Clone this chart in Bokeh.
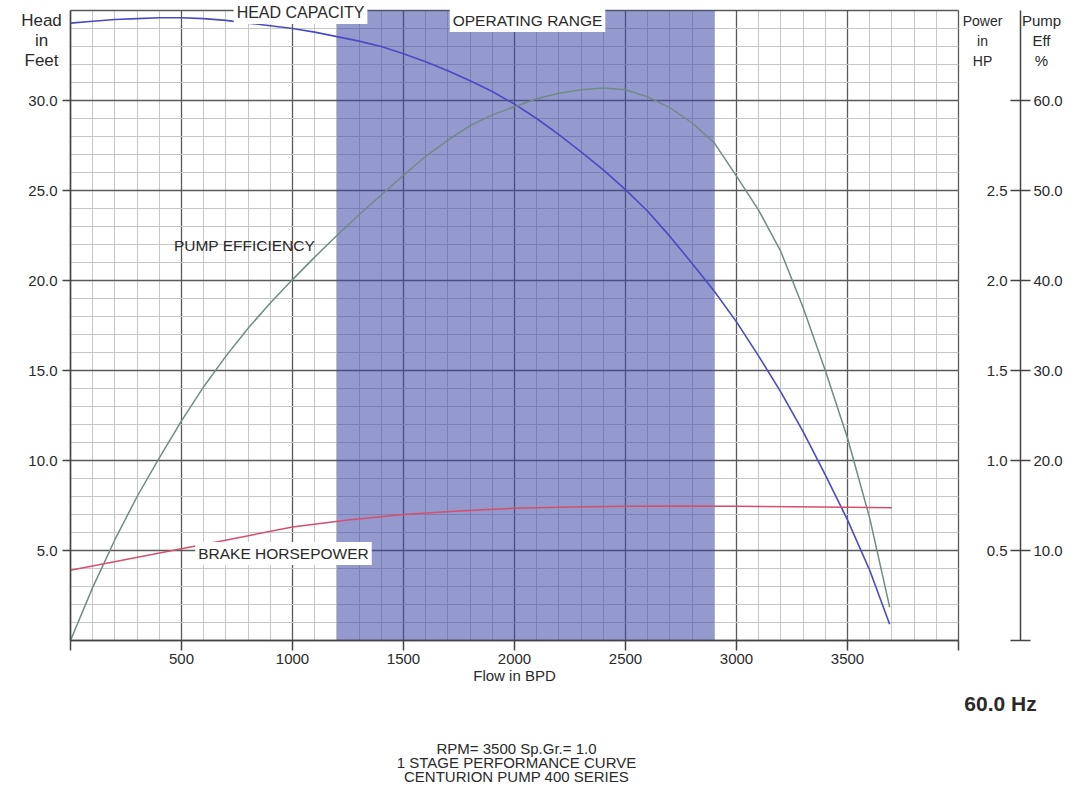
from bokeh.plotting import figure
from bokeh.models import (Range1d, LinearAxis, FixedTicker, Grid, BoxAnnotation,
                          Label, NumeralTickFormatter)
from bokeh.embed import file_html
from bokeh.resources import INLINE

# ---------------- data ----------------
flow_bpd = [0, 100, 200, 300, 400, 500, 600, 700, 800, 900, 1000, 1100, 1200, 1300,
            1400, 1500, 1600, 1700, 1800, 1900, 2000, 2100, 2200, 2300, 2400, 2500,
            2600, 2700, 2800, 2900, 3000, 3100, 3200, 3300, 3400, 3500, 3600, 3690]
head_ft = [34.3, 34.4, 34.5, 34.55, 34.6, 34.6, 34.55, 34.45, 34.3, 34.15, 34.0, 33.8,
           33.55, 33.3, 33.0, 32.6, 32.15, 31.65, 31.1, 30.5, 29.8, 29.0, 28.1, 27.15,
           26.15, 25.05, 23.85, 22.45, 20.95, 19.4, 17.7, 15.8, 13.8, 11.6, 9.2, 6.7,
           3.9, 0.9]
eff_pct = [0.0, 5.9, 11.2, 16.0, 20.3, 24.4, 28.2, 31.6, 34.7, 37.5, 40.1, 42.6, 45.0,
           47.3, 49.5, 51.7, 53.8, 55.6, 57.2, 58.4, 59.3, 60.2, 60.8, 61.2, 61.4, 61.2,
           60.4, 59.2, 57.5, 55.3, 51.6, 47.8, 43.2, 37.0, 30.0, 22.5, 13.6, 3.7]
bhp_flow = [0, 250, 500, 750, 1000, 1250, 1500, 1750, 2000, 2250, 2500, 2750, 3000,
            3250, 3500, 3700]
bhp_hp = [0.39, 0.45, 0.51, 0.57, 0.63, 0.67, 0.70, 0.72, 0.735, 0.742, 0.746, 0.747,
          0.746, 0.743, 0.740, 0.737]
operating_range = [1200, 2900]

FLOW_MAX = 4000
HEAD_MAX = 35
x_ticks = [0, 500, 1000, 1500, 2000, 2500, 3000, 3500, 4000]
x_minor = list(range(0, 4001, 100))
head_ticks = [5, 10, 15, 20, 25, 30]
head_grid = [0, 5, 10, 15, 20, 25, 30, 35]
head_minor = list(range(0, 36))
hp_ticks = [0.5, 1.0, 1.5, 2.0, 2.5]
eff_ticks = [0, 10, 20, 30, 40, 50, 60]

# ---------------- layout constants (the frame fills the page) ----------------
W, H = 1076, 792
X0_PX, Y0_PX = 70, 640              # pixel position of flow 0 / head 0
PX_PER_FLOW = 888 / 4000.0          # 4000 BPD spans 888 px
PX_PER_FT = 18.0
X_START = -X0_PX / PX_PER_FLOW
X_END = (W - X0_PX) / PX_PER_FLOW
Y_START = -(H - Y0_PX) / PX_PER_FT
Y_END = Y0_PX / PX_PER_FT
RIGHT_AXIS_X = (1020 - X0_PX) / PX_PER_FLOW

FONT = "Liberation Sans"
TXT = "#2a2a2a"
AX = "#444444"
TICK_FS = "15px"


def px_x(px):
    return (px - X0_PX) / PX_PER_FLOW


def px_y(py):
    return (Y0_PX - py) / PX_PER_FT


p = figure(width=W, height=H, x_range=Range1d(X_START, X_END),
           y_range=Range1d(Y_START, Y_END),
           output_backend="svg", toolbar_location=None, min_border=0)
p.outline_line_color = None
p.background_fill_color = "white"
p.border_fill_color = "white"
p.extra_y_ranges = {"hp": Range1d(Y_START / 10.0, Y_END / 10.0),
                    "eff": Range1d(Y_START * 2.0, Y_END * 2.0)}

# ---------------- grids ----------------
p.xgrid.ticker = FixedTicker(ticks=x_ticks, minor_ticks=x_minor)
p.ygrid.ticker = FixedTicker(ticks=head_grid, minor_ticks=head_minor)
for g in (p.xgrid[0], p.ygrid[0]):
    g.grid_line_color = "#5a5a5a"
    g.grid_line_width = 1.3
    g.minor_grid_line_color = "#c6c6c6"
    g.minor_grid_line_width = 1

if "cross_bounds" in Grid.properties():
    p.ygrid[0].cross_bounds = (0, FLOW_MAX)
    p.xgrid[0].cross_bounds = (0, HEAD_MAX)
else:
    eps_x, eps_y = 2 / PX_PER_FLOW, 0.1
    for kw in (dict(left=FLOW_MAX + eps_x), dict(right=-eps_x),
               dict(bottom=HEAD_MAX + eps_y), dict(top=-eps_y)):
        p.add_layout(BoxAnnotation(fill_color="white", fill_alpha=1.0,
                                   line_color=None, level="underlay", **kw))

# operating range shading
p.add_layout(BoxAnnotation(left=operating_range[0], right=operating_range[1],
                           bottom=0, top=HEAD_MAX,
                           fill_color="#3d46a6", fill_alpha=0.55, line_color=None,
                           level="underlay"))

# ---------------- curves ----------------
p.line(flow_bpd, head_ft, line_color="#4a4ac2", line_width=1.6)
p.line(flow_bpd, eff_pct, y_range_name="eff", line_color="#6f8c86", line_width=1.5)
p.line(bhp_flow, bhp_hp, y_range_name="hp", line_color="#d4506e", line_width=1.5)

# ---------------- axes ----------------
xa = p.xaxis[0]
xa.fixed_location = 0
xa.ticker = FixedTicker(ticks=x_ticks)
xa.bounds = (0, FLOW_MAX)
xa.major_label_overrides = {0: "", 4000: ""}
xa.major_tick_out = 10
xa.major_tick_in = 0
xa.minor_tick_line_color = None
xa.axis_line_color = AX
xa.axis_line_width = 1.5
xa.major_tick_line_color = AX
xa.major_tick_line_width = 1.5
xa.major_label_standoff = 3
xa.major_label_text_font = FONT
xa.major_label_text_font_size = TICK_FS
xa.major_label_text_color = TXT
xa.axis_label = "Flow in BPD"
xa.axis_label_standoff = 0
xa.axis_label_text_font = FONT
xa.axis_label_text_font_size = "15px"
xa.axis_label_text_font_style = "normal"
xa.axis_label_text_color = TXT

ya = p.yaxis[0]
ya.fixed_location = 0
ya.ticker = FixedTicker(ticks=head_ticks)
ya.formatter = NumeralTickFormatter(format="0.0")
ya.bounds = (0, HEAD_MAX)
ya.major_tick_out = 8
ya.major_tick_in = 0
ya.minor_tick_line_color = None
ya.axis_line_color = AX
ya.axis_line_width = 1.5
ya.major_tick_line_color = AX
ya.major_tick_line_width = 1.5
ya.major_label_standoff = 5
ya.major_label_text_font = FONT
ya.major_label_text_font_size = TICK_FS
ya.major_label_text_color = TXT

hp_axis = LinearAxis(y_range_name="hp", fixed_location=RIGHT_AXIS_X,
                     ticker=FixedTicker(ticks=hp_ticks),
                     formatter=NumeralTickFormatter(format="0.0"))
hp_axis.axis_line_color = None
hp_axis.major_tick_line_color = None
hp_axis.minor_tick_line_color = None
hp_axis.major_tick_out = 0
hp_axis.major_tick_in = 0
hp_axis.major_label_standoff = 13
hp_axis.major_label_text_font = FONT
hp_axis.major_label_text_font_size = TICK_FS
hp_axis.major_label_text_color = TXT
p.add_layout(hp_axis, "left")

eff_axis = LinearAxis(y_range_name="eff", fixed_location=RIGHT_AXIS_X,
                      ticker=FixedTicker(ticks=eff_ticks),
                      formatter=NumeralTickFormatter(format="0.0"))
eff_axis.bounds = (0, HEAD_MAX * 2)
eff_axis.major_label_overrides = {0: ""}
eff_axis.axis_line_color = AX
eff_axis.axis_line_width = 1.5
eff_axis.major_tick_line_color = AX
eff_axis.major_tick_line_width = 1.5
eff_axis.minor_tick_line_color = None
eff_axis.major_tick_out = 10
eff_axis.major_tick_in = 10
eff_axis.major_label_standoff = 3
eff_axis.major_label_text_font = FONT
eff_axis.major_label_text_font_size = TICK_FS
eff_axis.major_label_text_color = TXT
p.add_layout(eff_axis, "right")

# ---------------- texts ----------------
has_padding = "padding" in Label.properties()


def add_label(text, px, py, size="14px", bold=False, bg=None, align="center"):
    kw = dict(x=px_x(px), y=px_y(py), text=text, text_align=align,
              text_baseline="middle", text_font=FONT, text_font_size=size,
              text_color=TXT, text_font_style="bold" if bold else "normal")
    if bg is not None:
        kw["background_fill_color"] = bg
        kw["background_fill_alpha"] = 1.0
        if has_padding:
            kw["padding"] = 3
    p.add_layout(Label(**kw))


add_label("HEAD CAPACITY", 300, 12, size="16px", bg="white")
add_label("OPERATING RANGE", 527, 20, size="15.5px", bg="white")
add_label("PUMP EFFICIENCY", 244, 245, size="15.5px")
add_label("BRAKE HORSEPOWER", 283, 553, size="15.5px", bg="white")

for txt, yy in (("Head", 20), ("in", 40), ("Feet", 60)):
    add_label(txt, 41, yy, size="17px")
for txt, yy in (("Power", 20), ("in", 40), ("HP", 60)):
    add_label(txt, 982, yy, size="14px")
for txt, yy in (("Pump", 20), ("Eff", 40), ("%", 60)):
    add_label(txt, 1041, yy, size="15px")

add_label("60.0 Hz", 1000, 703, size="21px", bold=True)
for txt, yy in (("RPM= 3500 Sp.Gr.= 1.0", 748), ("1 STAGE PERFORMANCE CURVE", 762),
                ("CENTURION PUMP 400 SERIES", 776)):
    add_label(txt, 516, yy, size="15px")

open("out.html", "w").write(file_html(p, INLINE))
